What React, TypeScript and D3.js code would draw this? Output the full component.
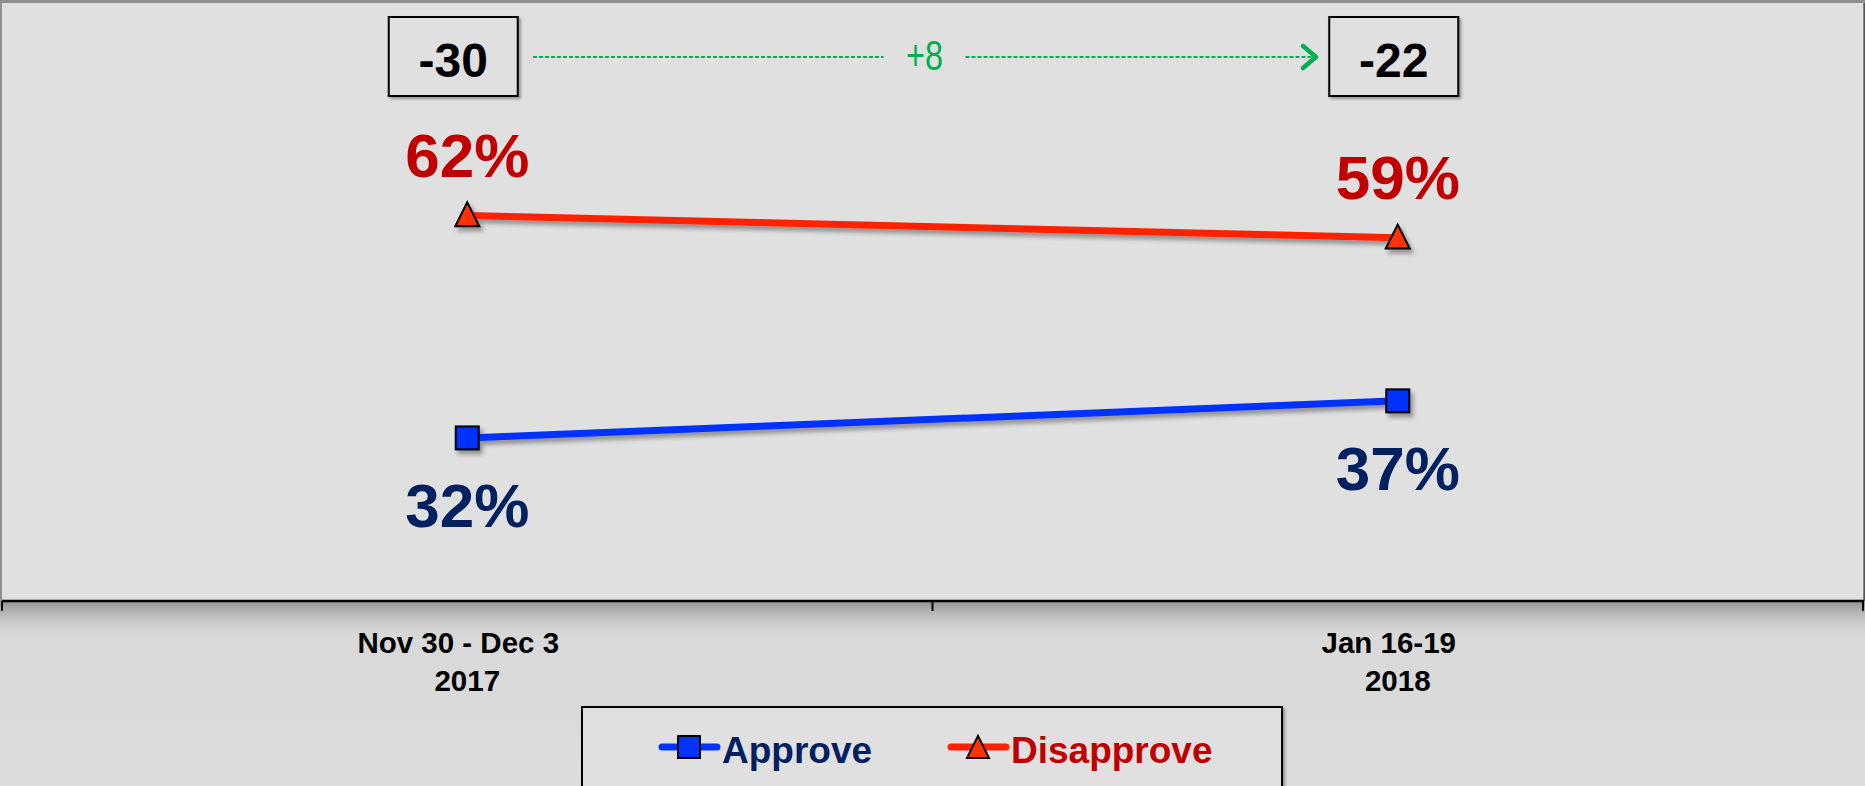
import React from "react";
import * as d3 from "d3";

const categoryLine1 = ["Nov 30 - Dec 3", "Jan 16-19"];
const categoryLine2 = ["2017", "2018"];
const approve = [32, 37];
const disapprove = [62, 59];
const seriesNames = ["Approve", "Disapprove"];

const W = 1865;
const H = 786;
const FONT = "'Liberation Sans', Arial, Helvetica, sans-serif";

export default function App() {
  const plotLeft = 2;
  const plotRight = 1863;
  const axisY = 601;
  const x = d3.scaleBand<string>().domain(categoryLine1).range([plotLeft, plotRight]);
  const cx = (i: number) => (x(categoryLine1[i]) as number) + x.bandwidth() / 2;
  const y = d3.scaleLinear().domain([10, 90]).range([axisY, 8]);

  const line = d3
    .line<number>()
    .x((_, i) => cx(i))
    .y((d) => y(d));

  const net = approve.map((a, i) => a - disapprove[i]);
  const change = net[net.length - 1] - net[0];
  const changeLabel = (change > 0 ? "+" : "") + change;
  const boxOffsets = [-14, -4];
  const boxW = 129;
  const boxH = 79;
  const boxY = 17;

  const tri = (s: number) => `M0,${-s * 0.55}L${s / 2},${s * 0.45}L${-s / 2},${s * 0.45}Z`;

  const arrowStart = 533;
  const arrowEnd = 1316;
  const arrowY = 57;
  const mid = (arrowStart + arrowEnd) / 2;

  const ticks = [plotLeft, (plotLeft + plotRight) / 2, plotRight];

  return (
    <svg
      width={W}
      height={H}
      style={{ position: "absolute", left: 0, top: 0, display: "block" }}
      fontFamily={FONT}
    >
      <defs>
        <filter id="shadow" x="-20%" y="-50%" width="140%" height="200%">
          <feDropShadow dx="3" dy="4" stdDeviation="2" floodColor="#000" floodOpacity="0.35" />
        </filter>
        <filter id="boxshadow" x="-10%" y="-10%" width="130%" height="130%">
          <feDropShadow dx="2" dy="2" stdDeviation="1.5" floodColor="#000" floodOpacity="0.35" />
        </filter>
        <linearGradient id="bottomBg" x1="0" y1="0" x2="0" y2="1">
          <stop offset="0" stopColor="#c9c9c9" />
          <stop offset="1" stopColor="#dcdcdc" />
        </linearGradient>
        <linearGradient id="axisShadow" x1="0" y1="0" x2="0" y2="1">
          <stop offset="0" stopColor="#8a8a8a" stopOpacity="0.9" />
          <stop offset="1" stopColor="#c9c9c9" stopOpacity="0" />
        </linearGradient>
        <linearGradient id="rightBorder" x1="0" y1="0" x2="1" y2="0">
          <stop offset="0" stopColor="#9a9a9a" />
          <stop offset="1" stopColor="#404040" />
        </linearGradient>
      </defs>

      {/* page frame */}
      <rect x={0} y={0} width={W} height={H} fill="url(#bottomBg)" />
      <rect x={0} y={0} width={W} height={axisY} fill="#909090" />
      <rect x={plotLeft} y={3} width={plotRight - plotLeft} height={axisY - 3} fill="#e0e0e0" />
      <rect x={plotRight} y={3} width={W - plotRight} height={axisY - 3} fill="url(#rightBorder)" />
      <rect x={0} y={axisY} width={W} height={36} fill="url(#axisShadow)" />

      {/* axis */}
      <line x1={plotLeft} x2={plotRight + 1} y1={axisY} y2={axisY} stroke="#000" strokeWidth={2.5} />
      {ticks.map((t, i) => (
        <line key={i} x1={t} x2={t} y1={axisY} y2={axisY + 10} stroke="#000" strokeWidth={2} />
      ))}
      {categoryLine1.map((c, i) => (
        <text key={c} textAnchor="middle" fontWeight="bold" fontSize={29.5} fill="#000">
          <tspan x={cx(i) - 9} y={653}>{c}</tspan>
          <tspan x={cx(i)} y={691}>{categoryLine2[i]}</tspan>
        </text>
      ))}

      {/* net boxes */}
      {net.map((n, i) => {
        const bx = cx(i) + boxOffsets[i] - boxW / 2;
        return (
          <g key={i}>
            <rect x={bx} y={boxY} width={boxW} height={boxH} fill="#e0e0e0" stroke="#000" strokeWidth={2} filter="url(#boxshadow)" />
            <text x={bx + boxW / 2} y={77} textAnchor="middle" fontWeight="bold" fontSize={48} fill="#000">
              {String(n)}
            </text>
          </g>
        );
      })}

      {/* change arrow */}
      <line x1={arrowStart} x2={mid - 41} y1={arrowY} y2={arrowY} stroke="#00b050" strokeWidth={2} strokeDasharray="4 2" />
      <line x1={mid + 41} x2={arrowEnd - 2} y1={arrowY} y2={arrowY} stroke="#00b050" strokeWidth={2} strokeDasharray="4 2" />
      <polyline
        points={`${arrowEnd - 13},${arrowY - 11} ${arrowEnd},${arrowY} ${arrowEnd - 13},${arrowY + 11}`}
        fill="none"
        stroke="#00b050"
        strokeWidth={4.5}
        strokeLinecap="round"
        strokeLinejoin="round"
      />
      <text x={mid} y={70} textAnchor="middle" fontSize={42} fill="#00b050" textLength={37} lengthAdjust="spacingAndGlyphs">
        {changeLabel}
      </text>

      {/* series lines */}
      <g filter="url(#shadow)">
        <path d={line(disapprove) as string} fill="none" stroke="#ff2200" strokeWidth={7} />
        <path d={line(approve) as string} fill="none" stroke="#0033ff" strokeWidth={7} />
        {disapprove.map((v, i) => (
          <path key={"t" + i} d={tri(24)} transform={`translate(${cx(i)},${y(v)})`} fill="#ff3300" stroke="#000" strokeWidth={2} />
        ))}
        {approve.map((v, i) => (
          <rect key={"s" + i} x={cx(i) - 11.5} y={y(v) - 11.5} width={23} height={23} fill="#0033ff" stroke="#000" strokeWidth={2} />
        ))}
      </g>

      {/* value labels */}
      {disapprove.map((v, i) => (
        <text key={"dl" + i} x={cx(i)} y={y(v) - 39} textAnchor="middle" fontWeight="bold" fontSize={62} fill="#c00000">
          {v + "%"}
        </text>
      ))}
      {approve.map((v, i) => (
        <text key={"al" + i} x={cx(i)} y={y(v) + 89} textAnchor="middle" fontWeight="bold" fontSize={62} fill="#002060">
          {v + "%"}
        </text>
      ))}

      {/* legend */}
      <rect x={582} y={707} width={700} height={100} fill="#e0e0e0" stroke="#000" strokeWidth={2} filter="url(#boxshadow)" />
      <g>
        <line x1={662} x2={717} y1={747} y2={747} stroke="#0033ff" strokeWidth={7} strokeLinecap="round" />
        <rect x={678} y={736} width={22} height={22} fill="#0033ff" stroke="#000" strokeWidth={2} />
        <text x={722} y={763} fontWeight="bold" fontSize={37} fill="#002060">{seriesNames[0]}</text>
      </g>
      <g>
        <line x1={951} x2={1006} y1={747} y2={747} stroke="#ff2200" strokeWidth={7} strokeLinecap="round" />
        <path d={tri(22)} transform={`translate(978,748)`} fill="#ff3300" stroke="#000" strokeWidth={2} />
        <text x={1011} y={763} fontWeight="bold" fontSize={37} fill="#c00000">{seriesNames[1]}</text>
      </g>
    </svg>
  );
}
